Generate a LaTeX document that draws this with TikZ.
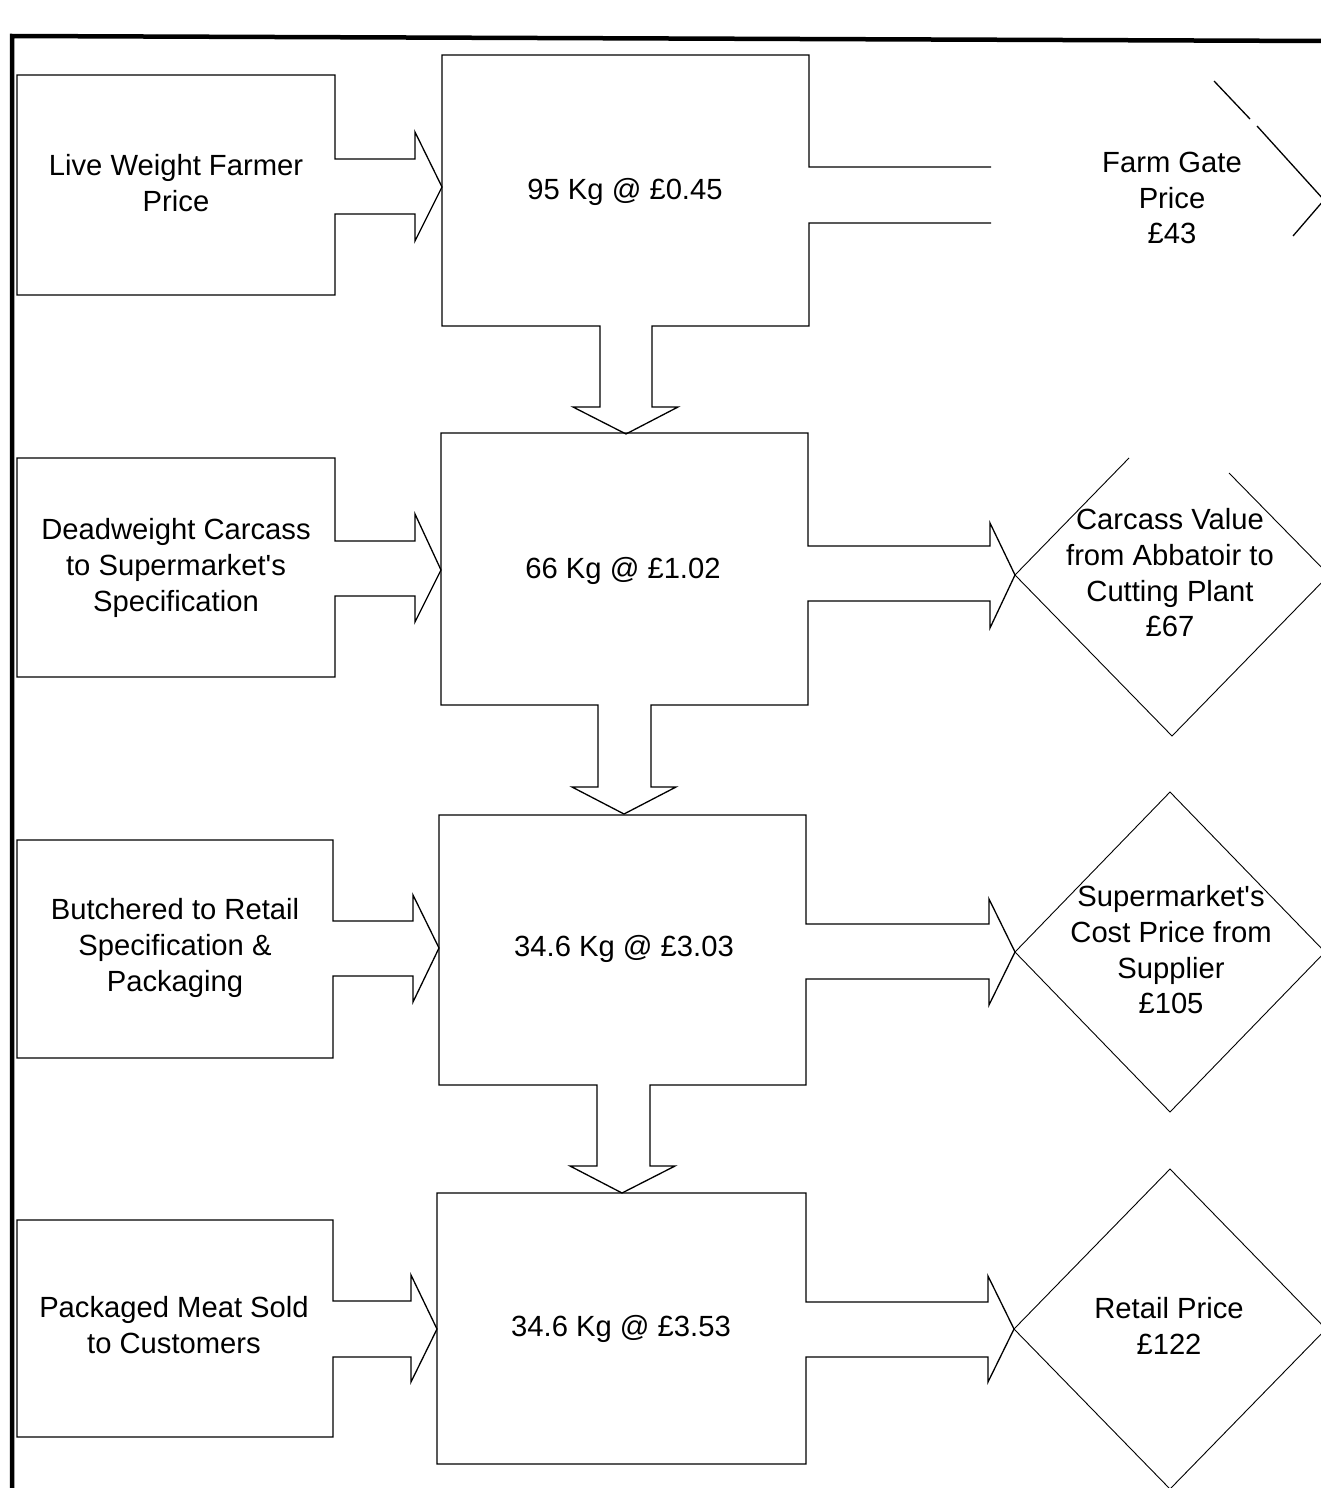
\documentclass[tikz,border=0pt]{standalone}
\usepackage{fontspec}
\setmainfont{Liberation Sans}
\begin{document}
\begin{tikzpicture}[x=1pt,y=-1pt,
  shapeline/.style={draw=black,line width=1.3pt,line join=miter},
  diamline/.style={draw=black,line width=0.9pt},
  frameline/.style={draw=black,line width=4.5pt},
  lbl/.style={align=center,inner sep=0pt,font=\fontsize{29.2}{35.7}\selectfont}]
\useasboundingbox (0,0) rectangle (1321,1488);
\clip (0,0) rectangle (1321,1488);
\fill[white] (0,0) rectangle (1321,1488);

% ---------- Row 1 ----------
\draw[shapeline] (17,75) -- (335,75) -- (335,159) -- (415,159) -- (415,132) -- (442,187) -- (415,241) -- (415,214) -- (335,214) -- (335,295) -- (17,295) -- cycle;
\draw[shapeline] (991,167) -- (809,167) -- (809,55) -- (442,55) -- (442,326) -- (600,326) -- (600,407) -- (573,407) -- (626,434) -- (678,407) -- (652,407) -- (652,326) -- (809,326) -- (809,223) -- (991,223);
\draw[diamline,line width=1.3pt] (1214,81) -- (1250,119);
\draw[diamline,line width=1.3pt] (1257,126) -- (1324,200) -- (1293,236);

% ---------- Row 2 ----------
\draw[shapeline] (17,458) -- (335,458) -- (335,541) -- (415,541) -- (415,514) -- (441,570) -- (415,622) -- (415,596) -- (335,596) -- (335,677) -- (17,677) -- cycle;
\draw[shapeline] (441,433) -- (808,433) -- (808,546) -- (990,546) -- (990,523) -- (1015,575) -- (990,628) -- (990,601) -- (808,601) -- (808,705) -- (651,705) -- (651,787) -- (676,787) -- (624,814) -- (572,787) -- (598,787) -- (598,705) -- (441,705) -- cycle;
\draw[diamline] (1129,458) -- (1015,575) -- (1172,736) -- (1329,575) -- (1229,473);

% ---------- Row 3 ----------
\draw[shapeline] (17,840) -- (333,840) -- (333,921) -- (413,921) -- (413,895) -- (439,948) -- (413,1002) -- (413,976) -- (333,976) -- (333,1058) -- (17,1058) -- cycle;
\draw[shapeline] (439,815) -- (806,815) -- (806,924) -- (989,924) -- (989,899) -- (1015,952) -- (989,1005) -- (989,979) -- (806,979) -- (806,1085) -- (650,1085) -- (650,1166) -- (675,1166) -- (622,1193) -- (570,1166) -- (597,1166) -- (597,1085) -- (439,1085) -- cycle;
\draw[diamline] (1170,792) -- (1325,952) -- (1170,1112) -- (1015,952) -- cycle;

% ---------- Row 4 ----------
\draw[shapeline] (17,1220) -- (333,1220) -- (333,1301) -- (411,1301) -- (411,1275) -- (437,1329) -- (411,1382) -- (411,1357) -- (333,1357) -- (333,1437) -- (17,1437) -- cycle;
\draw[shapeline] (437,1193) -- (806,1193) -- (806,1302) -- (988,1302) -- (988,1276) -- (1014,1329) -- (988,1382) -- (988,1357) -- (806,1357) -- (806,1464) -- (437,1464) -- cycle;
\draw[diamline] (1170,1169) -- (1326,1329) -- (1170,1489) -- (1014,1329) -- cycle;

% ---------- Frame ----------
\draw[frameline] (12,1492) -- (12,36) -- (1325,41);

% ---------- Texts ----------
\node[lbl] (l1) at (176,183) {Live Weight Farmer\\Price};
\node[lbl] (c1) at (625,192) {95 Kg @ £0.45};
\node[lbl] (d1) at (1172,198) {Farm Gate\\Price\\£43};

\node[lbl] (l2) at (176,568) {Deadweight Carcass\\to Supermarket\textquotesingle s\\Specification};
\node[lbl] (c2) at (623,571) {66 Kg @ £1.02};
\node[lbl] (d2) at (1170,573) {Carcass Value\\from Abbatoir to\\Cutting Plant\\£67};

\node[lbl] (l3) at (175,948) {Butchered to Retail\\Specification \&\\Packaging};
\node[lbl] (c3) at (624,949) {34.6 Kg @ £3.03};
\node[lbl] (d3) at (1171,950) {Supermarket\textquotesingle s\\Cost Price from\\Supplier\\£105};

\node[lbl] (l4) at (174,1325) {Packaged Meat Sold\\to Customers};
\node[lbl] (c4) at (621,1329) {34.6 Kg @ £3.53};
\node[lbl] (d4) at (1169,1326) {Retail Price\\£122};
\end{tikzpicture}
\end{document}
